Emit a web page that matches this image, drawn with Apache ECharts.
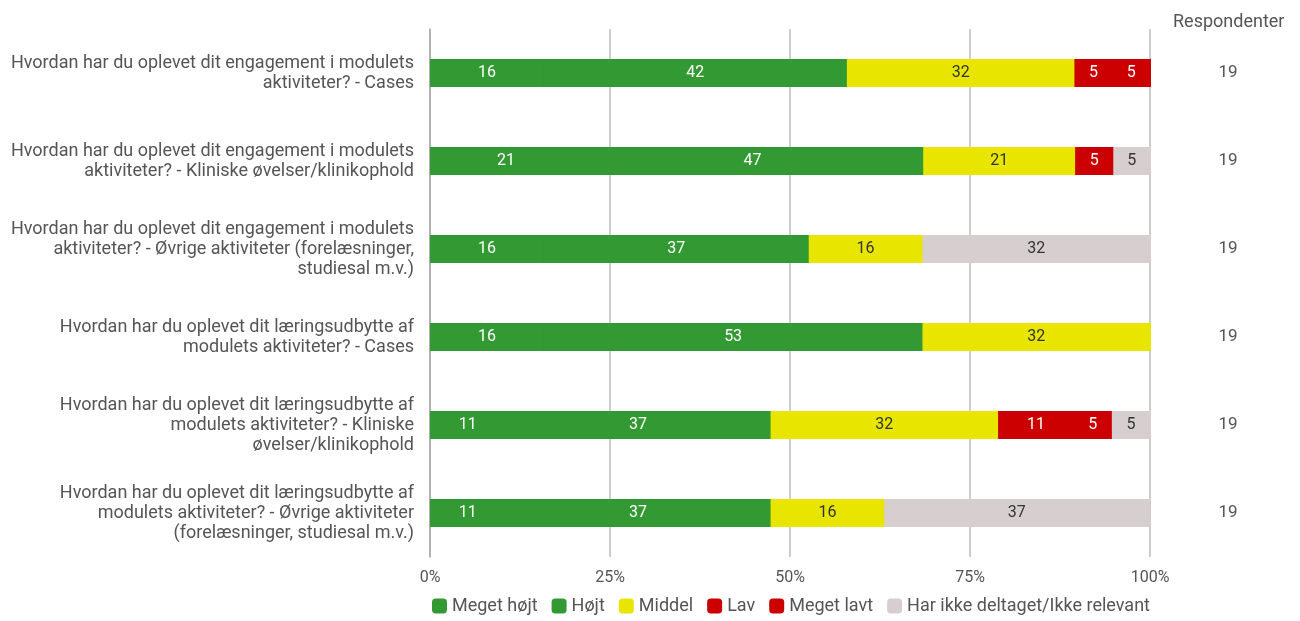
<!DOCTYPE html>
<html><head><meta charset="utf-8">
<script src="https://cdn.jsdelivr.net/npm/echarts@6/dist/echarts.min.js"></script>
<style>html,body{margin:0;padding:0;background:#fff}#c{width:1300px;height:621px}</style>
</head><body><div id="c"></div>
<script>
const categories = [
  "Hvordan har du oplevet dit engagement i modulets\naktiviteter? - Cases",
  "Hvordan har du oplevet dit engagement i modulets\naktiviteter? - Kliniske øvelser/klinikophold",
  "Hvordan har du oplevet dit engagement i modulets\naktiviteter? - Øvrige aktiviteter (forelæsninger,\nstudiesal m.v.)",
  "Hvordan har du oplevet dit læringsudbytte af\nmodulets aktiviteter? - Cases",
  "Hvordan har du oplevet dit læringsudbytte af\nmodulets aktiviteter? - Kliniske\nøvelser/klinikophold",
  "Hvordan har du oplevet dit læringsudbytte af\nmodulets aktiviteter? - Øvrige aktiviteter\n(forelæsninger, studiesal m.v.)"
];
const respondents = [19, 19, 19, 19, 19, 19];
const seriesNames = ["Meget højt", "Højt", "Middel", "Lav", "Meget lavt", "Har ikke deltaget/Ikke relevant"];
const megetHojt = [15.8, 21.1, 15.8, 15.8, 10.5, 10.5];
const hojt      = [42.1, 47.4, 36.8, 52.6, 36.8, 36.8];
const middel    = [31.6, 21.1, 15.8, 31.6, 31.6, 15.8];
const lav       = [5.3, 5.3, 0, 0, 10.5, 0];
const megetLavt = [5.3, 0, 0, 0, 5.3, 0];
const ikkeRel   = [0, 5.3, 31.6, 0, 5.3, 36.8];
const xTicks = ["0%", "25%", "50%", "75%", "100%"];

const values = [megetHojt, hojt, middel, lav, megetLavt, ikkeRel];
const colors = ["#339933", "#339933", "#e8e500", "#cc0000", "#cc0000", "#d7cfcf"];
const labelColors = ["#ffffff", "#ffffff", "#333333", "#ffffff", "#ffffff", "#333333"];
const FONT = "Roboto";

const chart = echarts.init(document.getElementById('c'));
chart.setOption({
  animation: false,
  textStyle: { fontFamily: FONT },
  title: {
    text: "Respondenter", left: 1168, top: 8,
    textStyle: { fontFamily: FONT, fontSize: 18, fontWeight: 'normal', color: '#555' }
  },
  legend: {
    bottom: 1, left: 427, itemWidth: 15, itemHeight: 15, itemGap: 14,
    icon: 'roundRect',
    textStyle: { fontFamily: FONT, fontSize: 18, color: '#555' },
    data: seriesNames
  },
  grid: { left: 430, right: 150, top: 29, bottom: 64, containLabel: false },
  xAxis: {
    type: 'value', min: 0, max: 100, interval: 25,
    axisLabel: { fontFamily: FONT, fontSize: 16, color: '#555', margin: 13,
      formatter: v => xTicks[Math.round(v / 25)] },
    splitLine: { show: true, lineStyle: { color: '#bbbbbb', width: 1.5 } },
    axisLine: { show: false }, axisTick: { show: false }
  },
  yAxis: [{
    type: 'category', data: categories, inverse: true,
    axisLine: { show: true, lineStyle: { color: '#aaaaaa', width: 1.5 } },
    axisTick: { show: false },
    axisLabel: { fontFamily: FONT, fontSize: 18, color: '#555', margin: 16, lineHeight: 20, align: 'right' }
  }, {
    type: 'category', data: respondents.map(String), inverse: true, position: 'right',
    axisLine: { show: false }, axisTick: { show: false },
    axisLabel: { fontFamily: FONT, fontSize: 17, color: '#555', margin: 78, align: 'center' }
  }],
  series: seriesNames.map((name, i) => ({
    name, type: 'bar', stack: 'total', barWidth: 28, yAxisIndex: 0,
    itemStyle: { color: colors[i], shadowColor: colors[i], shadowBlur: 0, shadowOffsetX: 1 },
    label: {
      show: true, position: 'inside', fontFamily: FONT, fontSize: 16, color: labelColors[i],
      formatter: p => p.value > 0 ? String(Math.round(p.value)) : ''
    },
    data: values[i].map(v => v === 0 ? null : v)
  }))
});
</script></body></html>
